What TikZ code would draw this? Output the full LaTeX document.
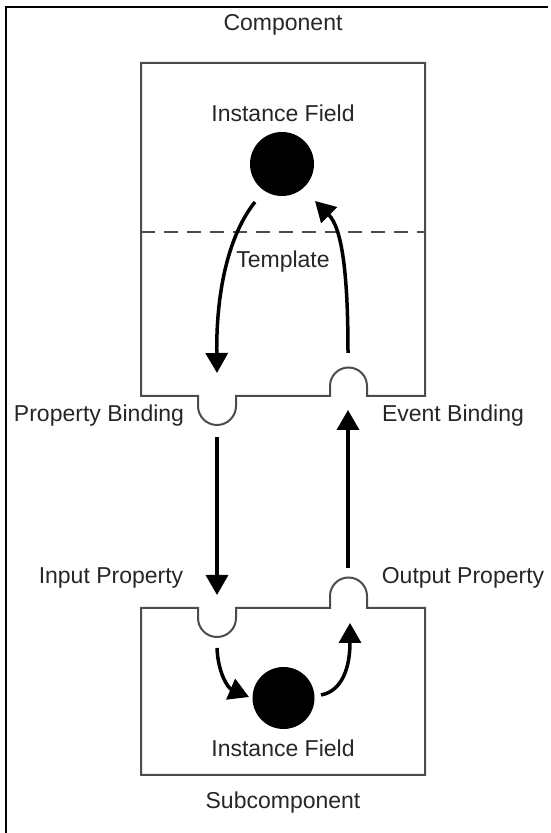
\documentclass[tikz,border=0pt]{standalone}
\usepackage{fontspec}
\setmainfont{Liberation Sans}
\usetikzlibrary{arrows.meta}
\begin{document}
\begin{tikzpicture}[x=1pt,y=1pt,
  lbl/.style={font=\fontsize{23}{27}\selectfont, inner sep=0pt, text=black!85},
  boxline/.style={line width=2pt, draw=black!70},
  flow/.style={line width=3.5pt, -{Triangle[length=20pt,width=22pt]}},
  dot/.style={circle, fill=black, inner sep=0pt}]
\useasboundingbox (0,0) rectangle (551,833);
% frame
\draw[line width=2.5pt] (6,0) -- (6,826) -- (548,826);
% top component box
\draw[boxline] (141,770) -- (425,770) -- (425,437) -- (367,437) -- (367,447)
  arc[start angle=0,end angle=180,radius=18.5] -- (330,437) -- (236,437) -- (236,427)
  arc[start angle=0,end angle=-180,radius=19] -- (198,437) -- (141,437) -- cycle;
\draw[line width=2pt, draw=black!70, dash pattern=on 14pt off 9pt] (141,601) -- (425,601);
% bottom subcomponent box
\draw[boxline] (141,225) -- (198,225) -- (198,215)
  arc[start angle=180,end angle=360,radius=19] -- (236,225) -- (330,225) -- (330,237)
  arc[start angle=180,end angle=0,radius=18.5] -- (367,225) -- (425,225) -- (425,58) -- (141,58) -- cycle;
% circles
\node[dot, minimum size=64pt] (f1) at (282,669) {};
\node[dot, minimum size=62pt] (f2) at (283.5,135) {};
% labels
\node[lbl] (comp) at (283,808) {Component};
\node[lbl] (if1) at (283,720) {Instance Field};
\node[lbl] (tmpl) at (283,571) {Template};
\node[lbl] (pb) at (99,417) {Property Binding};
\node[lbl] (eb) at (453,417) {Event Binding};
\node[lbl] (ip) at (111,255) {Input Property};
\node[lbl] (op) at (463,255) {Output Property};
\node[lbl] (if2) at (283,85) {Instance Field};
\node[lbl] (sub) at (283,30) {Subcomponent};
% connector endpoints
\coordinate (a1s) at (255,631);
\coordinate (a1e) at (217,460);
\coordinate (a2s) at (348,480);
\coordinate (a2e) at (315,632);
\coordinate (m1s) at (217,396);
\coordinate (m1e) at (217,238);
\coordinate (m2s) at (348,265);
\coordinate (m2e) at (348,423);
\coordinate (b1s) at (217,185);
\coordinate (b1e) at (249,136);
\coordinate (b2s) at (321,138);
\coordinate (b2e) at (350,210);
% arrows
\draw[flow] (a1s) .. controls (230,600) and (216,545) .. (a1e);
\draw[flow] (a2s) .. controls (348,560) and (342,605) .. (a2e);
\draw[flow] (m1s) -- (m1e);
\draw[flow] (m2s) -- (m2e);
\draw[flow] (b1s) .. controls (218,160) and (228,145) .. (b1e);
\draw[flow] (b2s) .. controls (342,142) and (350,165) .. (b2e);
\end{tikzpicture}
\end{document}
